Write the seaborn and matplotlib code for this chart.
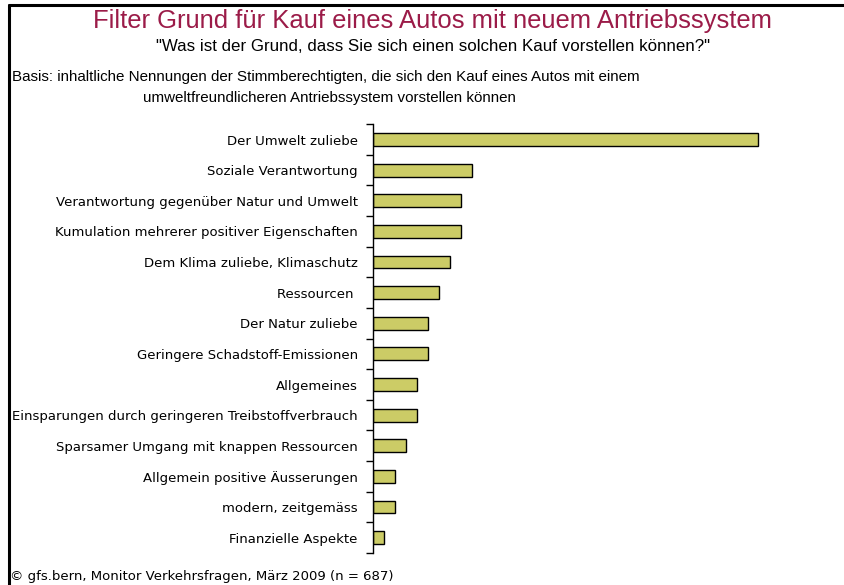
import pandas as pd
import matplotlib
matplotlib.use("Agg")
import matplotlib.pyplot as plt
import seaborn as sns

# Gruende (Reihenfolge wie im Original) und Anteile in %
gruende = [
    "Der Umwelt zuliebe",
    "Soziale Verantwortung",
    "Verantwortung gegenüber Natur und Umwelt",
    "Kumulation mehrerer positiver Eigenschaften",
    "Dem Klima zuliebe, Klimaschutz",
    "Ressourcen ",
    "Der Natur zuliebe",
    "Geringere Schadstoff-Emissionen",
    "Allgemeines",
    "Einsparungen durch geringeren Treibstoffverbrauch",
    "Sparsamer Umgang mit knappen Ressourcen",
    "Allgemein positive Äusserungen",
    "modern, zeitgemäss",
    "Finanzielle Aspekte",
]
anteile = [35, 9, 8, 8, 7, 6, 5, 5, 4, 4, 3, 2, 2, 1]

df = pd.DataFrame({"Grund": gruende, "Anteil": anteile})

sns.set_style("white")
plt.rcParams["font.family"] = ["DejaVu Sans"]
narrow = ["Liberation Sans Narrow", "DejaVu Sans Condensed", "Liberation Sans"]

fig = plt.figure(figsize=(8.44, 5.85), dpi=100)
ax = fig.add_axes([0.442, 0.0547, 0.506, 0.733])

sns.barplot(data=df, x="Anteil", y="Grund", orient="h", color="#CCCC66",
            edgecolor="black", linewidth=1, width=0.42, saturation=1, ax=ax)

ax.set_xlim(0, 38.8)
ax.set_ylim(len(gruende) - 0.5, -0.5)
ax.set_xlabel("")
ax.set_ylabel("")
ax.set_xticks([])
for s in ["top", "right", "bottom"]:
    ax.spines[s].set_visible(False)
ax.spines["left"].set_color("black")
ax.spines["left"].set_linewidth(1)

# Ticks zwischen den Kategorien
ax.set_yticks([i - 0.5 for i in range(len(gruende) + 1)], minor=True)
ax.tick_params(axis="y", which="minor", length=5, width=1, color="black", direction="out", left=True)
ax.tick_params(axis="y", which="major", length=0, pad=11, labelsize=9.5, labelcolor="black")

renderer = fig.canvas.get_renderer()


def fit_text(x, y, s, width_px, size, **kw):
    # Schriftgroesse so anpassen, dass die Breite etwa dem Original entspricht
    t = fig.text(x, y, s, fontsize=size, family=narrow, **kw)
    w = t.get_window_extent(renderer).width
    t.set_fontsize(size * width_px / w)
    return t


fit_text(0.512, 0.964, "Filter Grund für Kauf eines Autos mit neuem Antriebssystem", 681, 18,
         ha="center", va="center", color="#9B1B48")
fit_text(0.513, 0.921, '"Was ist der Grund, dass Sie sich einen solchen Kauf vorstellen können?"', 553, 12,
         ha="center", va="center", color="black")
fit_text(0.014, 0.868, "Basis: inhaltliche Nennungen der Stimmberechtigten, die sich den Kauf eines Autos mit einem",
         635, 10.5, ha="left", va="center", color="black")
fit_text(0.169, 0.832, "umweltfreundlicheren Antriebssystem vorstellen können", 377, 10.5,
         ha="left", va="center", color="black")
fig.text(0.012, 0.015, "© gfs.bern, Monitor Verkehrsfragen, März 2009 (n = 687)",
         ha="left", va="center", fontsize=9.5, color="black")

# Rahmen oben und links
fig.add_artist(plt.Line2D([0.0105, 1.0], [0.992, 0.992], transform=fig.transFigure, color="black", linewidth=2.2))
fig.add_artist(plt.Line2D([0.0105, 0.0105], [0.0, 0.992], transform=fig.transFigure, color="black", linewidth=2.2))

fig.savefig("out.png", dpi=100)
